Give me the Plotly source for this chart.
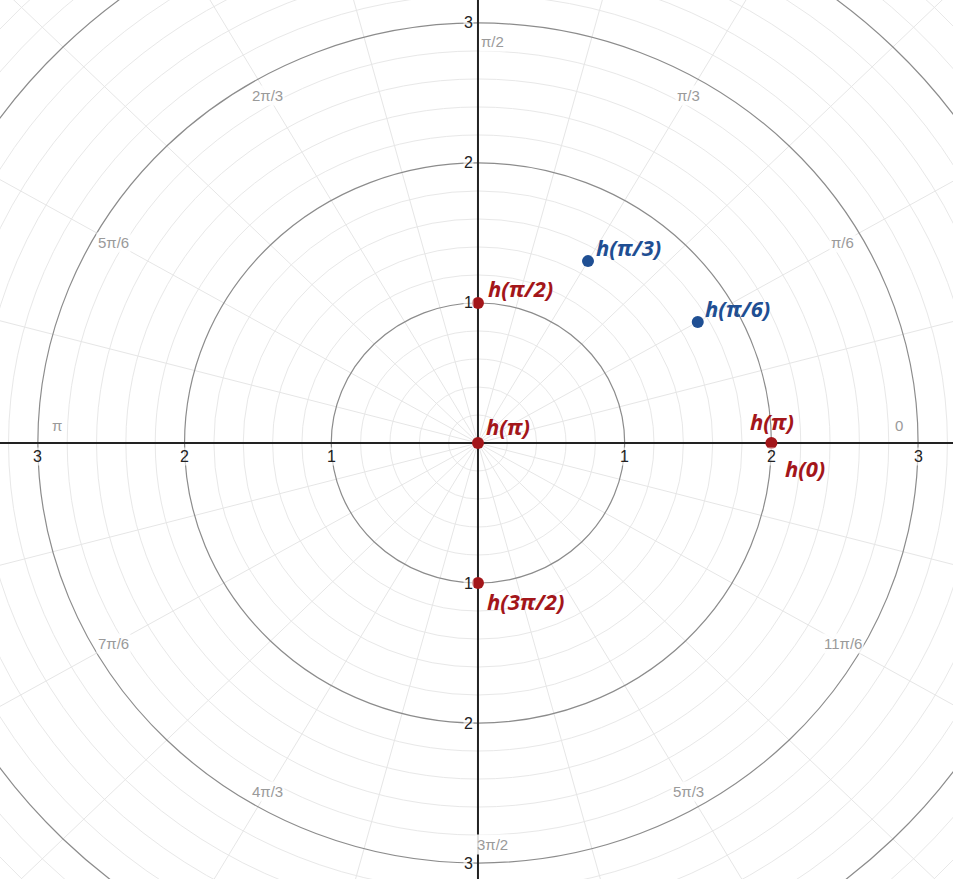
import numpy as np
import plotly.graph_objects as go

# ---- data ----
red_theta = [np.pi / 2, np.pi, 0.0, 3 * np.pi / 2]
red_r = [1.0, 0.0, 2.0, 1.0]
blue_theta = [np.pi / 3, np.pi / 6]
blue_r = [1.5, 1.73]

angle_labels = ["0", "π/6", "π/3", "π/2", "2π/3", "5π/6", "π",
                "7π/6", "4π/3", "3π/2", "5π/3", "11π/6"]
tick_values = [1, 2, 3]

# label texts and placement for points
point_labels = [
    # (theta, r, text, color, xanchor, xshift, yshift)
    (np.pi / 2, 1.0, "h(π/2)", "red", "left", 8, 15),
    (np.pi, 0.0, "h(π)", "red", "left", 6, 17),
    (0.0, 2.0, "h(π)", "red", "center", 1, 22),
    (0.0, 2.0, "h(0)", "red", "left", 12, -25),
    (3 * np.pi / 2, 1.0, "h(3π/2)", "red", "left", 7, -18),
    (np.pi / 3, 1.5, "h(π/3)", "blue", "left", 6, 14),
    (np.pi / 6, 1.73, "h(π/6)", "blue", "left", 5, 14),
]

RED = "#a3161a"
BLUE = "#1f4f93"
COLORS = {"red": RED, "blue": BLUE}

XR = [-3.258, 3.238]
YR = [-3.114, 3.164]

fig = go.Figure()
shapes = []

# minor circles
minor_r = [round(0.2 * k, 2) for k in range(1, 24) if k % 5 != 0]
for r in minor_r:
    shapes.append(dict(type="circle", xref="x", yref="y", x0=-r, y0=-r, x1=r, y1=r,
                       line=dict(color="#e8e8e8", width=1), layer="below"))

# radial lines every pi/12
R_MAX = 5
for k in range(24):
    a = k * np.pi / 12
    if k % 6 == 0:
        continue
    shapes.append(dict(type="line", xref="x", yref="y", x0=0, y0=0,
                       x1=R_MAX * np.cos(a), y1=R_MAX * np.sin(a),
                       line=dict(color="#e6e6e6", width=1), layer="below"))

# major circles
for r in [1, 2, 3, 4]:
    shapes.append(dict(type="circle", xref="x", yref="y", x0=-r, y0=-r, x1=r, y1=r,
                       line=dict(color="#8c8c8c", width=1.2), layer="below"))

# axes
shapes.append(dict(type="line", xref="x", yref="y", x0=XR[0], y0=0, x1=XR[1], y1=0,
                   line=dict(color="#222222", width=2), layer="below"))
shapes.append(dict(type="line", xref="x", yref="y", x0=0, y0=YR[0], x1=0, y1=YR[1],
                   line=dict(color="#222222", width=2), layer="below"))

annotations = []
tick_font = dict(family="Liberation Sans, Arial, sans-serif", size=16, color="#222222")
for v in tick_values:
    for s in (1, -1):
        annotations.append(dict(x=s * v, y=0, xref="x", yref="y", text=str(v),
                                showarrow=False, font=tick_font, yshift=-13,
                                bgcolor="rgba(255,255,255,0.6)", borderpad=0))
        annotations.append(dict(x=0, y=s * v, xref="x", yref="y", text=str(v),
                                showarrow=False, font=tick_font, xanchor="right",
                                xshift=-4, bgcolor="rgba(255,255,255,0.6)", borderpad=0))

ang_font = dict(family="Liberation Sans, Arial, sans-serif", size=15, color="#9a9a9a")
R_LAB = 2.87
for k, txt in enumerate(angle_labels):
    a = k * np.pi / 6
    xs, ys = 0, 0
    if k in (0, 6):
        ys = 18
    if k in (3, 9):
        xs = 15
    annotations.append(dict(x=R_LAB * np.cos(a), y=R_LAB * np.sin(a), xref="x", yref="y",
                            text=txt, showarrow=False, font=ang_font, xshift=xs, yshift=ys,
                            bgcolor="rgba(255,255,255,0.85)", borderpad=1))

# points
rx = [r * np.cos(t) for r, t in zip(red_r, red_theta)]
ry = [r * np.sin(t) for r, t in zip(red_r, red_theta)]
bx = [r * np.cos(t) for r, t in zip(blue_r, blue_theta)]
by = [r * np.sin(t) for r, t in zip(blue_r, blue_theta)]
fig.add_trace(go.Scatter(x=rx, y=ry, mode="markers",
                         marker=dict(color=RED, size=12), hoverinfo="skip"))
fig.add_trace(go.Scatter(x=bx, y=by, mode="markers",
                         marker=dict(color=BLUE, size=12), hoverinfo="skip"))

for t, r, txt, col, xa, xs, ys in point_labels:
    annotations.append(dict(x=r * np.cos(t), y=r * np.sin(t), xref="x", yref="y",
                            text=txt, showarrow=False, xanchor=xa, xshift=xs, yshift=ys,
                            font=dict(family="Open Sans, sans-serif", size=22,
                                      color=COLORS[col], weight="bold", style="italic")))

fig.update_layout(
    width=953, height=879,
    margin=dict(l=0, r=0, t=0, b=0),
    paper_bgcolor="white", plot_bgcolor="white",
    showlegend=False,
    shapes=shapes, annotations=annotations,
    xaxis=dict(range=XR, visible=False, showgrid=False, zeroline=False, fixedrange=True),
    yaxis=dict(range=YR, visible=False, showgrid=False, zeroline=False, fixedrange=True),
)

fig.write_html("out.html", config={"displayModeBar": False},
               post_script="document.body.style.margin='0';document.body.style.overflow='hidden';")
